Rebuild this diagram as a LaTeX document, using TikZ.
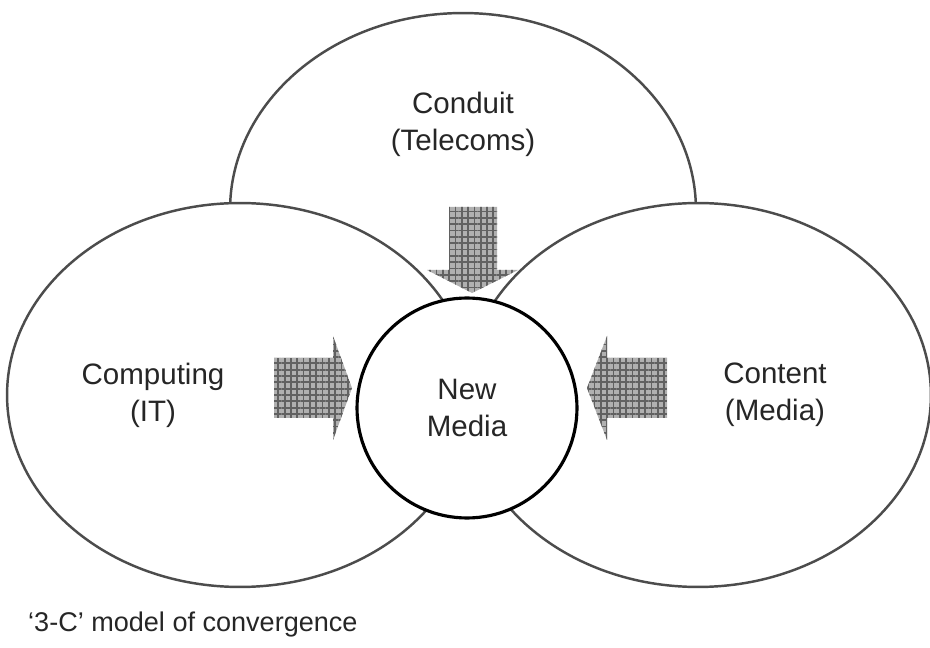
\documentclass[tikz,border=0pt]{standalone}
\usepackage{fontspec}
\setmainfont{Liberation Sans}
\usetikzlibrary{shapes.geometric,patterns.meta}

\begin{document}
\begin{tikzpicture}[x=0.02cm, y=-0.02cm,
    field/.style={ellipse, draw=black!70, line width=1.4pt, fill=white, minimum width=9.32cm, minimum height=7.68cm, inner sep=0pt},
    lbl/.style={font=\fontsize{16.8}{21}\selectfont, align=center, text=black!85},
    inflow/.style={preaction={fill=gray!62}, pattern={Hatch[distance=3.6pt, line width=1pt]}, pattern color=black!62}]
				\useasboundingbox (0,0) rectangle (930,648);
				\node[field, minimum height=7.88cm] (conduit) at (463,210) {};
				\node[field] (computing) at (240,395) {};
				\node[field] (content) at (698,395) {};
				\node[circle, draw, line width=1.8pt, fill=white, minimum size=4.4cm, lbl] (newmedia) at (467,408) {New\\Media};

				\node[lbl] (conduittxt) at (463,124) {Conduit\\(Telecoms)};
				\node[lbl] (computingtxt) at (153,395) {Computing\\(IT)};
				\node[lbl] (contenttxt) at (775,395) {Content\\(Media)};
				\node[lbl, font=\fontsize{15.4}{19}\selectfont, anchor=west] (caption) at (22,625) {‘3-C’ model of convergence};

				% arrows into the middle
				\fill[inflow] (449,207) -- (497,207) -- (497,270) -- (518,270) -- (472,293) -- (427,270) -- (449,270) -- cycle;
				\fill[inflow] (274,358) -- (333,358) -- (333,336) -- (352,388) -- (333,440) -- (333,418) -- (274,418) -- cycle;
				\fill[inflow] (667,358) -- (607,358) -- (607,336) -- (587,388) -- (607,440) -- (607,418) -- (667,418) -- cycle;
			\end{tikzpicture}
\end{document}
